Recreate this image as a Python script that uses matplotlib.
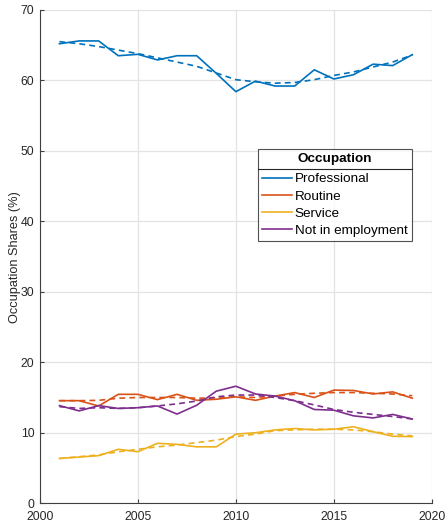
import numpy as np
import matplotlib
matplotlib.use("Agg")
import matplotlib.pyplot as plt
from matplotlib.lines import Line2D

plt.rcParams['font.family'] = ['Liberation Sans', 'DejaVu Sans']

# 資料：年份與各職業佔比（實線）及趨勢（虛線）
years = list(range(2001, 2020))

professional = [65.2, 65.6, 65.6, 63.5, 63.7, 62.9, 63.5, 63.5, 61.0, 58.4,
                59.9, 59.2, 59.2, 61.5, 60.2, 60.8, 62.3, 62.1, 63.65]
routine = [14.55, 14.55, 13.8, 15.45, 15.45, 14.7, 15.45, 14.6, 14.75, 15.1,
           14.6, 15.2, 15.7, 15.0, 16.05, 16.0, 15.5, 15.8, 14.9]
service = [6.35, 6.55, 6.75, 7.65, 7.3, 8.5, 8.35, 8.0, 8.0, 9.8,
           10.0, 10.4, 10.6, 10.4, 10.5, 10.85, 10.15, 9.5, 9.45]
not_employed = [13.85, 13.1, 13.85, 13.45, 13.55, 13.8, 12.65, 13.9, 15.9, 16.6,
                15.5, 15.2, 14.55, 13.3, 13.2, 12.4, 12.1, 12.6, 11.95]

professional_trend = [65.5, 65.2, 64.8, 64.3, 63.8, 63.2, 62.6, 62.0, 61.05, 60.1,
                      59.8, 59.6, 59.7, 60.1, 60.7, 61.2, 61.9, 62.6, 63.6]
routine_trend = [14.55, 14.55, 14.6, 14.9, 15.0, 15.0, 15.0, 14.9, 14.95, 15.1,
                 15.0, 15.2, 15.45, 15.6, 15.7, 15.7, 15.6, 15.5, 15.25]
service_trend = [6.35, 6.6, 6.85, 7.3, 7.65, 8.0, 8.25, 8.6, 8.95, 9.45,
                 9.8, 10.3, 10.4, 10.5, 10.5, 10.4, 10.15, 9.8, 9.55]
not_employed_trend = [13.7, 13.45, 13.55, 13.45, 13.55, 13.8, 14.1, 14.5, 15.1, 15.35,
                      15.35, 15.0, 14.55, 13.95, 13.3, 12.9, 12.6, 12.3, 11.95]

labels = ["Professional", "Routine", "Service", "Not in employment"]
colors = ["#0072BD", "#D95319", "#EDB120", "#7E2F8E"]
series = [professional, routine, service, not_employed]
trends = [professional_trend, routine_trend, service_trend, not_employed_trend]

fig = plt.figure(figsize=(4.48, 5.22), dpi=100)
ax = fig.add_axes([0.089, 0.036, 0.875, 0.945])

for vals, tr, c, lab in zip(series, trends, colors, labels):
    ax.plot(years, vals, color=c, lw=1.2, label=lab)
    ax.plot(years, tr, color=c, lw=1.2, ls=(0, (3.5, 2.5)))

ax.set_xlim(2000, 2020)
ax.set_ylim(0, 70)
ax.set_xticks([2000, 2005, 2010, 2015, 2020])
ax.set_yticks(range(0, 71, 10))
ax.grid(True, color="#e3e3e3", lw=0.9)
ax.set_axisbelow(True)
ax.spines['top'].set_visible(False)
ax.spines['right'].set_visible(False)
for s in ['left', 'bottom']:
    ax.spines[s].set_color("#404040")
    ax.spines[s].set_linewidth(0.8)
ax.tick_params(direction='in', length=3, width=0.8, color="#404040",
               labelsize=8.8, labelcolor="#262626")
ax.tick_params(axis='x', pad=5.5)
ax.tick_params(axis='y', pad=4)
ax.set_ylabel("Occupation Shares (%)", fontsize=9.2, color="#262626", labelpad=0)

handles = [Line2D([], [], color=c, lw=1.2) for c in colors]
leg = ax.legend(handles, labels, title="Occupation", loc='upper left',
                bbox_to_anchor=(0.556, 0.7174), fontsize=9.7, frameon=True,
                fancybox=False, edgecolor="#262626", handlelength=2.27,
                handletextpad=0.17, labelspacing=0.355, borderpad=0.3,
                borderaxespad=0.0)
leg.get_title().set_fontweight('bold')
leg.get_title().set_fontsize(9.7)
leg.get_frame().set_linewidth(0.8)
leg._legend_box.sep = 5.5

# 圖例標題下方的分隔線
fig.canvas.draw()
fb = leg.get_frame().get_window_extent()
tb = leg.get_title().get_window_extent()
eb = leg.get_texts()[0].get_window_extent()
inv = fig.transFigure.inverted()
ymid = (tb.y0 + eb.y1) / 2
x0, y0 = inv.transform((fb.x0, ymid))
x1, _ = inv.transform((fb.x1, ymid))
fig.add_artist(Line2D([x0, x1], [y0, y0], color="#262626", lw=0.8,
                      transform=fig.transFigure))

fig.savefig("out.png", dpi=100)
